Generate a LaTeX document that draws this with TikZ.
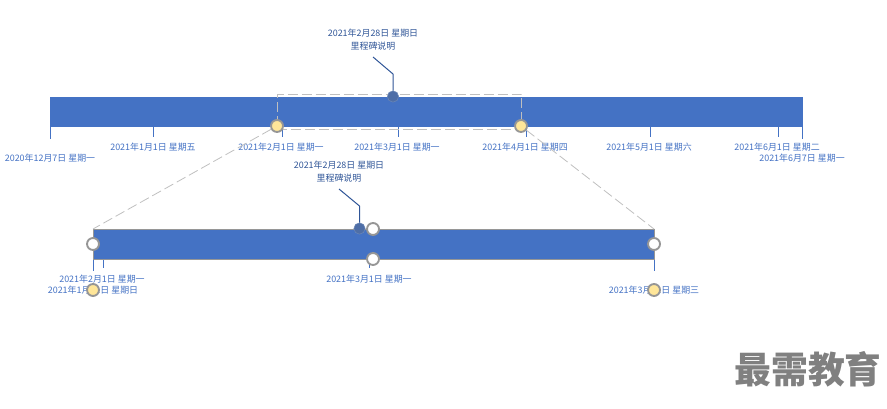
\documentclass[tikz,border=0pt]{standalone}
\usepackage{fontspec}
\setmainfont{Noto Sans CJK SC}
\definecolor{barblue}{HTML}{4472C4}
\definecolor{darkblue}{HTML}{2F5597}
\definecolor{handlegray}{HTML}{969696}
\definecolor{handleyellow}{HTML}{FFE699}
\begin{document}
\begin{tikzpicture}[x=0.75pt, y=-0.75pt, thick,
		datelabel/.style={text=barblue, font=\fontsize{6.7pt}{8pt}\selectfont, inner sep=0pt},
		milelabel/.style={text=darkblue, font=\fontsize{6.7pt}{9.75pt}\selectfont, inner sep=0pt, align=center},
		ticka/.style={barblue, line width=0.75pt},
		leader/.style={darkblue, line width=0.75pt},
		guide/.style={dash pattern=on 7.5pt off 3pt, color=black!25, line width=0.75pt},
		mile/.style={circle, draw=darkblue!70, fill=darkblue!85, line width=0.4pt, minimum size=8.5pt, inner sep=0pt},
		handlew/.style={circle, draw=handlegray, fill=white, line width=1.4pt, minimum size=9pt, inner sep=0pt},
		handley/.style={circle, draw=handlegray, fill=handleyellow, line width=1.4pt, minimum size=9pt, inner sep=0pt}]
	\useasboundingbox (0,0) rectangle (887,409);
	
	% ==== 上方：总时间轴 ====
	\begin{scope}
		% 时间条
		\fill[barblue] (50,97) rectangle (803,127);
		
		% 刻度
		\draw[ticka] (50.5,127) -- (50.5,139);
		\draw[ticka] (153,127) -- (153,137);
		\draw[ticka] (282,127) -- (282,137);
		\draw[ticka] (398,127) -- (398,137);
		\draw[ticka] (526,127) -- (526,137);
		\draw[ticka] (650,127) -- (650,137);
		\draw[ticka] (778,127) -- (778,137);
		\draw[ticka] (802,127) -- (802,139);
		
		% 日期
		\node[datelabel] (dec7) at (50,158) {2020年12月7日 星期一};
		\node[datelabel] (jan1) at (153,147) {2021年1月1日 星期五};
		\node[datelabel] (feb1) at (281,147) {2021年2月1日 星期一};
		\node[datelabel] (mar1) at (397,147) {2021年3月1日 星期一};
		\node[datelabel] (apr1) at (525,147) {2021年4月1日 星期四};
		\node[datelabel] (may1) at (649,147) {2021年5月1日 星期六};
		\node[datelabel] (jun1) at (777,147) {2021年6月1日 星期二};
		\node[datelabel] (jun7) at (802,158) {2021年6月7日 星期一};
		
		% 选区
		\draw[guide] (277,126) -- (277,94.5) -- (521.5,94.5) -- (521.5,126);
		\draw[guide] (277,129.5) -- (521.5,129.5);
		
		% 里程碑
		\node[milelabel] (mtexta) at (373,39.5) {2021年2月28日 星期日\\里程碑说明};
		\coordinate (mfoota) at (373,57);
		\coordinate (mbenda) at (393,74);
		\node[mile] (milea) at (393,96.5) {};
		\draw[leader] (mfoota) -- (mbenda) -- (milea);
	\end{scope}
	
	% ==== 下方：放大时间轴 ====
	\begin{scope}
		% 时间条
		\fill[barblue, draw=handlegray, line width=0.75pt] (93,229.5) rectangle (654,259.5);
		
		% 刻度
		\draw[ticka] (93,260) -- (93,271);
		\draw[ticka] (103,260) -- (103,268.5);
		\draw[ticka] (369.5,260) -- (369.5,268.5);
		\draw[ticka] (654,260) -- (654,271);
		
		% 日期
		\node[datelabel] (feb1b) at (102,279) {2021年2月1日 星期一};
		\node[datelabel] (jan31) at (93,290) {2021年1月31日 星期日};
		\node[datelabel] (mar1b) at (369,279) {2021年3月1日 星期一};
		\node[datelabel] (mar31) at (654,290) {2021年3月31日 星期三};
		
		% 里程碑
		\node[milelabel] (mtextb) at (339,171.5) {2021年2月28日 星期日\\里程碑说明};
		\coordinate (mfootb) at (339,189);
		\coordinate (mbendb) at (359.5,206);
		\node[mile] (mileb) at (359.5,228.5) {};
		\draw[leader] (mfootb) -- (mbendb) -- (mileb);
	\end{scope}
	
	% 控制点
	\node[handley] (hta) at (277,126) {};
	\node[handley] (htb) at (521,126) {};
	\node[handlew] (hl) at (93,244) {};
	\node[handlew] (hr) at (654,244) {};
	\node[handlew] (hu) at (373,229) {};
	\node[handlew] (hd) at (373,259) {};
	\node[handley] (hlo) at (93,290) {};
	\node[handley] (hro) at (654,290) {};
	
	% 放大辅助线
	\coordinate (cornl) at (93,229);
	\coordinate (cornr) at (654,229);
	\draw[guide, line width=0.6pt] (hta) -- (cornl);
	\draw[guide, line width=0.6pt] (htb) -- (cornr);
	
	% 水印
	\node[text=black!50, font=\fontsize{27.6pt}{30pt}\selectfont\bfseries, inner sep=0pt] (logo) at (808,369.5) {最需教育};
\end{tikzpicture}
\end{document}
